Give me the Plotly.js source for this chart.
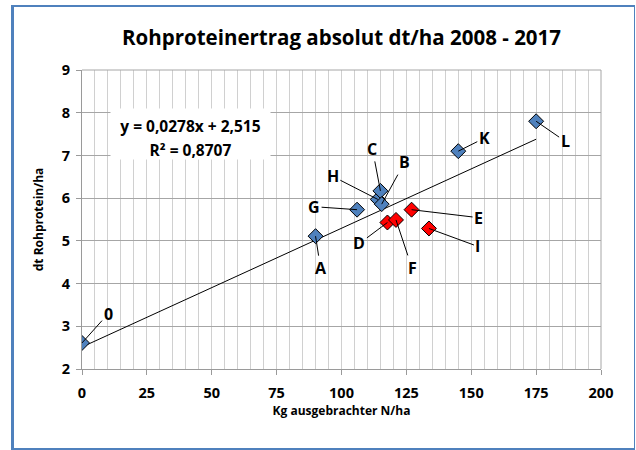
<!DOCTYPE html>
<html>
<head>
<meta charset="utf-8">
<script src="https://cdn.plot.ly/plotly-3.0.1.min.js"></script>
<style>
  html, body { margin: 0; padding: 0; background: #fff; }
  #wrap { position: relative; width: 636px; height: 450px; }
  #chart { position: absolute; left: 0; top: 0; width: 636px; height: 450px; }
  #frame { position: absolute; left: 11px; top: 5px; width: 620px; height: 441px;
           border-left: 3px solid #4f81bd; border-top: 2px solid #4f81bd;
           border-right: 1px solid #4f81bd; border-bottom: 2px solid #4f81bd; pointer-events: none; }
</style>
</head>
<body>
<div id="wrap"><div id="chart"></div><div id="frame"></div></div>
<script>
// Data
const blueLabels = ["0", "A", "G", "H", "C", "B", "K", "L"];
const blueX = [0, 90, 106, 114, 115, 115.5, 145, 175];
const blueY = [2.61, 5.11, 5.73, 5.97, 6.17, 5.86, 7.1, 7.8];

const redLabels = ["D", "F", "E", "I"];
const redX = [117.7, 121, 127, 133.7];
const redY = [5.43, 5.49, 5.73, 5.29];

const slope = 0.0278;
const intercept = 2.515;
const trendX = [0, 175];
const equationText = "y = 0,0278x + 2,515";
const r2Text = "R² = 0,8707";

const xTickVals = [0, 25, 50, 75, 100, 125, 150, 175, 200];
const yTickVals = [2, 3, 4, 5, 6, 7, 8, 9];

// label offsets (pixels) relative to their point
const labelOffsets = {
  "0": [26, -29], "A": [5, 32], "G": [-43, -3], "H": [-45, -23],
  "C": [-8, -42], "B": [23, -42], "K": [26, -13], "L": [29, 20],
  "D": [-28, 21], "F": [16, 48], "E": [67, 8], "I": [49, 18]
};

const FONT = "'Open Sans', sans-serif";
const bold = s => "<b>" + s + "</b>";

const trendY = trendX.map(x => slope * x + intercept);

const traces = [
  { x: trendX, y: trendY, mode: "lines", line: { color: "#000", width: 1 }, hoverinfo: "skip", showlegend: false },
  { x: blueX, y: blueY, mode: "markers", showlegend: false,
    marker: { symbol: "diamond", size: 11.5, color: "#4f81bd", line: { color: "#000", width: 1 } } },
  { x: redX, y: redY, mode: "markers", showlegend: false,
    marker: { symbol: "diamond", size: 11.5, color: "#ff0000", line: { color: "#000", width: 1 } } }
];

const annotations = [];
function addLabels(labels, xs, ys) {
  labels.forEach((lab, i) => {
    const off = labelOffsets[lab];
    annotations.push({
      x: xs[i], y: ys[i], xref: "x", yref: "y", text: bold(lab),
      showarrow: true, arrowhead: 0, arrowwidth: 1, arrowcolor: "#000",
      ax: off[0], ay: off[1], standoff: 0,
      font: { family: FONT, size: 16, color: "#000", weight: 700 }
    });
  });
}
addLabels(blueLabels, blueX, blueY);
addLabels(redLabels, redX, redY);

annotations.push({
  x: 41.8, y: 7.5, xref: "x", yref: "y", text: bold(equationText), showarrow: false,
  yshift: 8, width: 159, height: 34, bgcolor: "#fff", borderpad: 0,
  font: { family: FONT, size: 15.5, color: "#000", weight: 700 }
});
annotations.push({
  x: 41.8, y: 7.5, xref: "x", yref: "y", text: bold(r2Text), showarrow: false,
  yshift: -16, width: 159, height: 18, bgcolor: "#fff", borderpad: 0,
  font: { family: FONT, size: 15.5, color: "#000", weight: 700 }
});

const layout = {
  width: 636, height: 450,
  margin: { l: 82, r: 35, t: 70, b: 81 },
  paper_bgcolor: "#fff", plot_bgcolor: "#fff",
  font: { family: FONT, color: "#000", weight: 700 },
  title: { text: bold("Rohproteinertrag absolut dt/ha 2008 - 2017"), font: { family: FONT, size: 20.5, color: "#000", weight: 700 },
           x: 0.5, xanchor: "center", y: 0.917, yanchor: "middle", xref: "paper" },
  xaxis: {
    range: [0, 200], tickmode: "array", tickvals: xTickVals, ticktext: xTickVals.map(v => bold(String(v))),
    showgrid: true, gridcolor: "#d0d0d0", gridwidth: 1,
    minor: { dtick: 5, showgrid: true, gridcolor: "#d0d0d0", gridwidth: 1 },
    showline: true, linecolor: "#9a9a9a", linewidth: 1, mirror: false,
    ticks: "outside", ticklen: 5, tickcolor: "#9a9a9a", ticklabelstandoff: 6,
    tickfont: { family: FONT, size: 14.5, color: "#000", weight: 700 },
    zeroline: false, fixedrange: true,
    title: { text: bold("Kg ausgebrachter N/ha"), font: { family: FONT, size: 12, color: "#000", weight: 700 }, standoff: 4 }
  },
  yaxis: {
    range: [2, 9], tickmode: "array", tickvals: yTickVals, ticktext: yTickVals.map(v => bold(String(v))),
    showgrid: true, gridcolor: "#a6a6a6", gridwidth: 1,
    showline: true, linecolor: "#9a9a9a", linewidth: 1,
    ticks: "outside", ticklen: 5, tickcolor: "#9a9a9a", ticklabelstandoff: 3,
    tickfont: { family: FONT, size: 14.5, color: "#000", weight: 700 },
    zeroline: false, fixedrange: true,
    title: { text: bold("dt Rohprotein/ha"), font: { family: FONT, size: 12, color: "#000", weight: 700 }, standoff: 15 }
  },
  shapes: [
    { type: "line", xref: "paper", yref: "paper", x0: 0, x1: 1, y0: 1, y1: 1, line: { color: "#a6a6a6", width: 1 } },
    { type: "line", xref: "paper", yref: "paper", x0: 1, x1: 1, y0: 0, y1: 1, line: { color: "#a6a6a6", width: 1 } }
  ],
  annotations: annotations
};

Plotly.newPlot("chart", traces, layout, { displayModeBar: false, staticPlot: true });
</script>
</body>
</html>
